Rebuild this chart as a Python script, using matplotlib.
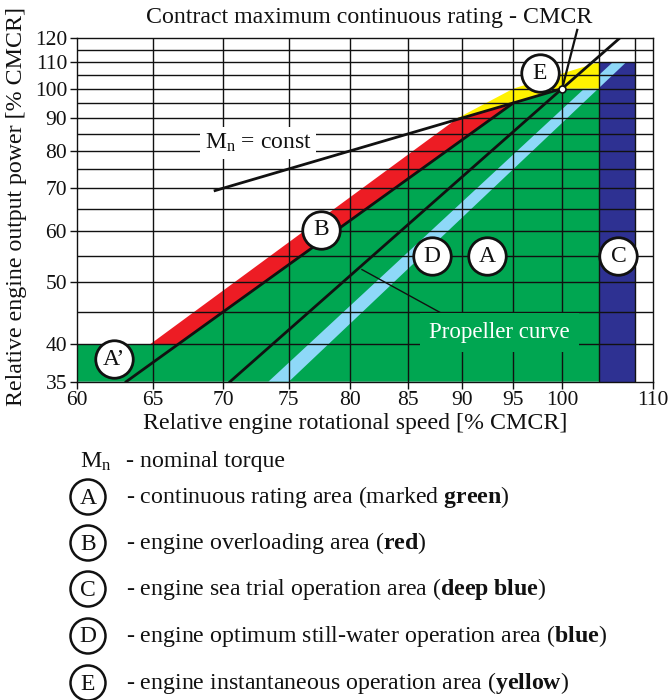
import numpy as np
import matplotlib
matplotlib.use("Agg")
import matplotlib.pyplot as plt
from matplotlib.patches import Circle

plt.rcParams['font.family'] = ['Liberation Serif', 'DejaVu Serif']
plt.rcParams['mathtext.fontset'] = 'custom'
plt.rcParams['mathtext.rm'] = 'Liberation Serif'
plt.rcParams['mathtext.it'] = 'Liberation Serif:italic'
plt.rcParams['mathtext.bf'] = 'Liberation Serif:bold'

# ---------------- data ----------------
speed_ticks = [60, 65, 70, 75, 80, 85, 90, 95, 100, 110]
power_ticks = [35, 40, 50, 60, 70, 80, 90, 100, 110, 120]
speed_grid = [65, 70, 75, 80, 85, 90, 95, 100, 104, 108]
power_grid = [40, 45, 50, 55, 60, 65, 70, 75, 80, 85, 90, 95, 100, 105, 110, 115]

# propeller curve (through CMCR point)
prop_speed = [70.5, 100, 106.3]
prop_power = [35, 100, 120]
# constant torque line
mn_speed = [69.4, 100]
mn_power = [69.4, 100]
# lower limit of overload area (B)
lineb_speed = [63.2, 95.0]
lineb_power = [35, 95]
# upper edge of overload area (B)
red_top_speed = [64.8, 89.6]
red_top_power = [40, 90]
# upper edge of instantaneous area (E)
yellow_top_speed = [89.6, 95, 104]
yellow_top_power = [90, 100, 110]
# A' area upper power
a_prime_power = 40
# sea trial area (C)
c_speed = [104, 108]
c_power = [35, 110]
# optimum still-water stripe (D)
d_left_speed = [73.4, 105.5]
d_right_speed = [75.0, 107.0]
d_power = [35, 110]
# CMCR point and pointer end
cmcr = (100, 100)
pointer_end = (101.6, 123.4)

# label positions
labels = {"A\u2019": (62.4, 37.9), "B": (77.6, 60.3), "D": (87.2, 54.9),
          "A": (92.4, 54.9), "C": (106.1, 54.9), "E": (97.7, 105.6)}

GREEN = "#00A651"
RED = "#ED1C24"
YELLOW = "#FFF200"
NAVY = "#2E3192"
LBLUE = "#8ED8F8"


def n_at(p, speeds, powers):
    return float(np.exp(np.interp(np.log(p), np.log(powers), np.log(speeds))))


fig = plt.figure(figsize=(6.69, 7.0), dpi=100)
ax = fig.add_axes([76.8 / 669, 1 - 381.7 / 700, (652.7 - 76.8) / 669, (381.7 - 37.7) / 700])
ax.set_xscale('log')
ax.set_yscale('log')
ax.set_xlim(60, 110)
ax.set_ylim(35, 120)

# green area A + A'
nb40 = n_at(a_prime_power, lineb_speed, lineb_power)
gx = [60, 60, nb40, lineb_speed[1], mn_speed[1], c_speed[0], c_speed[0]]
gy = [35, a_prime_power, a_prime_power, lineb_power[1], mn_power[1], mn_power[1], 35]
ax.fill(gx, gy, color=GREEN, lw=0, zorder=1)
# area C
ax.fill([c_speed[0], c_speed[0], c_speed[1], c_speed[1]],
        [c_power[0], c_power[1], c_power[1], c_power[0]], color=NAVY, lw=0, zorder=1)
# stripe D
ax.fill([d_left_speed[0], d_left_speed[1], d_right_speed[1], d_right_speed[0]],
        [d_power[0], d_power[1], d_power[1], d_power[0]], color=LBLUE, lw=0, zorder=1.1)
# red area B
rx = [red_top_speed[0], red_top_speed[1], lineb_speed[1], nb40]
ry = [red_top_power[0], red_top_power[1], lineb_power[1], a_prime_power]
ax.fill(rx, ry, color=RED, lw=0, zorder=1.2)
# yellow area E
yx = yellow_top_speed + [c_speed[0], mn_speed[1], yellow_top_speed[0]]
yy = yellow_top_power + [mn_power[1], mn_power[1], yellow_top_speed[0]]
ax.fill(yx, yy, color=YELLOW, lw=0, zorder=1.3)

# grid
ax.hlines(power_grid, 60, 110, colors='#111111', lw=1.0, zorder=2)
ax.vlines(speed_grid, 35, 120, colors='#111111', lw=1.0, zorder=2)

# curves
ax.plot(mn_speed, mn_power, color='#111111', lw=2.0, zorder=3)
ax.plot(prop_speed, prop_power, color='#111111', lw=2.0, zorder=3)
ax.plot(lineb_speed, lineb_power, color='#111111', lw=2.0, zorder=3)
ax.plot([cmcr[0], pointer_end[0]], [cmcr[1], pointer_end[1]], color='#111111',
        lw=1.6, zorder=3, clip_on=False)
ax.plot([cmcr[0]], [cmcr[1]], 'o', ms=5, mfc='white', mec='#111111', mew=1.2, zorder=6)

# annotation leader for propeller curve
ax.plot([81.0, 89.4], [52.3, 43.5], color='#111111', lw=1.0, zorder=3)
ax.text(93.6, 41.7, "Propeller curve", color='white', fontsize=16.5, ha='center',
        va='center', zorder=4,
        bbox=dict(boxstyle='square,pad=0.4', fc=GREEN, ec='none'))
ax.text(72.6, 82.3, r"M$_\mathrm{n}$ = const", color='#111111', fontsize=17, ha='center',
        va='center', zorder=4,
        bbox=dict(boxstyle='square,pad=0.2', fc='white', ec='none'))

# circle labels
for lab, (xx, yy_) in labels.items():
    ax.plot([xx], [yy_], 'o', ms=27, mfc='white', mec='#111111', mew=2.0, zorder=5)
    ax.text(xx, yy_, lab, fontsize=17, ha='center', va='center', color='#111111', zorder=6)

# axes styling
ax.set_xticks(speed_ticks)
ax.set_xticklabels([str(v) for v in speed_ticks])
ax.set_yticks(power_ticks)
ax.set_yticklabels([str(v) for v in power_ticks])
ax.minorticks_off()
ax.tick_params(axis='both', which='major', labelsize=15.5, length=5, width=1.0,
               direction='out', colors='#111111', pad=2)
for s in ax.spines.values():
    s.set_linewidth(1.0)
    s.set_color('#111111')
    s.set_zorder(2.5)

# texts outside
fig.text(369 / 669, 1 - 18 / 700, "Contract maximum continuous rating - CMCR",
         fontsize=17.2, ha='center', va='center', color='#111111')
fig.text(355 / 669, 1 - 423 / 700, "Relative engine rotational speed [% CMCR]",
         fontsize=17.2, ha='center', va='center', color='#111111')
fig.text(17 / 669, 1 - 207 / 700, "Relative engine output power [% CMCR]",
         fontsize=17.2, ha='center', va='center', rotation=90, color='#111111')

# legend (pixel overlay)
lg = fig.add_axes([0, 0, 1, 1], zorder=10)
lg.set_xlim(0, 669)
lg.set_ylim(700, 0)
lg.axis('off')
lg.patch.set_alpha(0)

lg.text(80, 462, r"M$_\mathrm{n}$", fontsize=17.2, ha='left', va='center', color='#111111')
lg.text(126, 462, "- nominal torque", fontsize=17.2, ha='left', va='center', color='#111111')
legend_rows = [
    ("A", 497, r"- continuous rating area (marked $\mathbf{green}$)"),
    ("B", 543, r"- engine overloading area ($\mathbf{red}$)"),
    ("C", 589, r"- engine sea trial operation area ($\mathbf{deep\ blue}$)"),
    ("D", 636, r"- engine optimum still-water operation area ($\mathbf{blue}$)"),
    ("E", 683, r"- engine instantaneous operation area ($\mathbf{yellow}$)"),
]
for lab, yy_, txt in legend_rows:
    lg.add_patch(Circle((88, yy_), 17.5, fc='white', ec='#111111', lw=1.8))
    lg.text(88, yy_ + 1, lab, fontsize=17, ha='center', va='center', color='#111111')
    lg.text(126, yy_, txt, fontsize=17.2, ha='left', va='center', color='#111111')

fig.savefig("out.png", dpi=100)
